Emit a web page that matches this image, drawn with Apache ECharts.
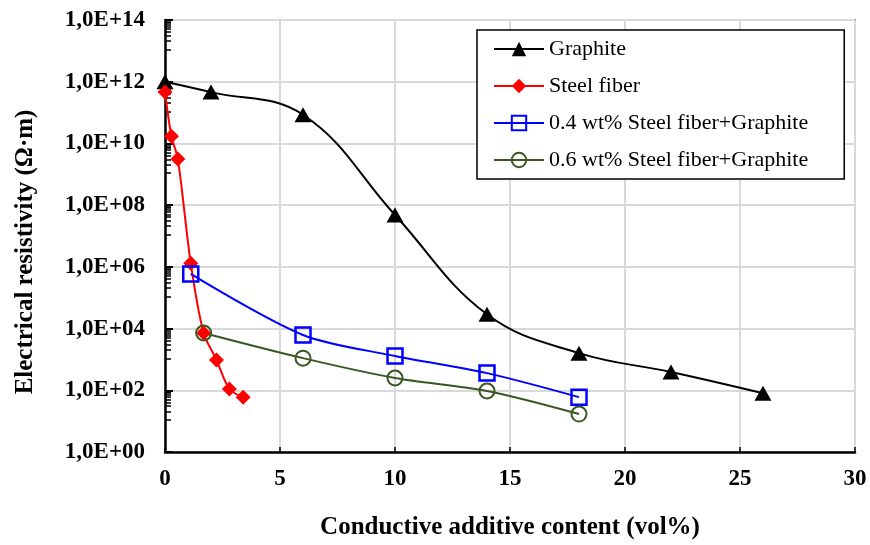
<!DOCTYPE html>
<html>
<head>
<meta charset="utf-8">
<script src="https://cdn.jsdelivr.net/npm/echarts@6/dist/echarts.min.js"></script>
<style>
    html, body {margin: 0; padding: 0; background: #fff;}
    #chart {width: 870px; height: 545px;}
</style>
</head>
<body>
<div id="chart"></div>
<script>
// values
var graphiteX = [0, 2, 6, 10, 14, 18, 22, 26];
var graphiteY = [1.0e12, 4.6e11, 8.5e10, 4.8e7, 2.9e4, 1.6e3, 3.9e2, 8.0e1];

var steelX = [0, 0.28, 0.56, 1.12, 1.68, 2.24, 2.8, 3.4];
var steelY = [4.6e11, 1.7e10, 3.1e9, 1.3e6, 7.2e3, 9.6e2, 1.1e2, 6.0e1];

var mix04X = [1.12, 6, 10, 14, 18];
var mix04Y = [5.9e5, 6.2e3, 1.3e3, 3.6e2, 6.0e1];

var mix06X = [1.68, 6, 10, 14, 18];
var mix06Y = [7.2e3, 1.1e3, 2.5e2, 9.5e1, 1.7e1];

var seriesNames = ['Graphite', 'Steel fiber', '0.4 wt% Steel fiber+Graphite', '0.6 wt% Steel fiber+Graphite'];

var font = 'Liberation Serif';

function pairs(xs, ys) {
    var out = [];
    for (var i = 0; i < xs.length; i++) {
        out.push([xs[i], ys[i]]);
    }
    return out;
}

var chart = echarts.init(document.getElementById('chart'));
var option = {
    animation: false,
    backgroundColor: '#fff',
    grid: {
        left: 165, right: 15, top: 20, bottom: 93,
        show: true, borderColor: '#000', borderWidth: 1.5
    },
    legend: {
        orient: 'vertical',
        left: 477, top: 30,
        padding: [8, 36, 8, 16],
        itemGap: 15,
        itemWidth: 50, itemHeight: 18,
        backgroundColor: '#fff',
        borderColor: '#000', borderWidth: 1.5, borderRadius: 0,
        textStyle: {fontFamily: font, fontSize: 22, color: '#000'},
        data: seriesNames
    },
    xAxis: {
        type: 'value',
        min: 0, max: 30, interval: 5,
        name: 'Conductive additive content (vol%)',
        nameLocation: 'middle',
        nameGap: 63,
        nameTextStyle: {fontFamily: font, fontSize: 25, fontWeight: 'bold', color: '#000'},
        axisLine: {lineStyle: {color: '#000', width: 2.5}},
        axisTick: {show: true, inside: true, length: 5, lineStyle: {color: '#000', width: 1.5}},
        axisLabel: {fontFamily: font, fontSize: 23, fontWeight: 'bold', color: '#000', margin: 16},
        splitLine: {show: true, lineStyle: {color: '#d9d9d9', width: 2}}
    },
    yAxis: {
        type: 'log',
        logBase: 10,
        min: 1, max: 1e14, interval: 2,
        name: 'Electrical resistivity (\u03a9\u00b7m)',
        nameLocation: 'middle',
        nameGap: 127,
        nameTextStyle: {fontFamily: font, fontSize: 25, fontWeight: 'bold', color: '#000', padding: [0, 32, 0, 0]},
        axisLine: {lineStyle: {color: '#000', width: 2.5}},
        axisTick: {show: true, inside: true, length: 8, lineStyle: {color: '#000', width: 2}},
        minorTick: {show: true, splitNumber: 10, length: 6, lineStyle: {color: '#000', width: 1.5}},
        axisLabel: {
            fontFamily: font, fontSize: 23, fontWeight: 'bold', color: '#000', margin: 20,
            formatter: function (v) {
                var e = Math.round(Math.log10(v));
                return '1,0E+' + (e < 10 ? '0' + e : e);
            }
        },
        splitLine: {show: true, lineStyle: {color: '#d9d9d9', width: 2}}
    },
    series: [
        {
            name: seriesNames[0], type: 'line', smooth: 0.4,
            data: pairs(graphiteX, graphiteY),
            symbol: 'triangle', symbolSize: [17, 15],
            itemStyle: {color: '#000'},
            lineStyle: {color: '#000', width: 2}
        },
        {
            name: seriesNames[1], type: 'line', smooth: 0.3,
            data: pairs(steelX, steelY),
            symbol: 'diamond', symbolSize: 15,
            itemStyle: {color: '#ff0000'},
            lineStyle: {color: '#ff0000', width: 2}
        },
        {
            name: seriesNames[2], type: 'line', smooth: 0.3,
            data: pairs(mix04X, mix04Y),
            symbol: 'rect', symbolSize: 15,
            itemStyle: {color: 'rgba(0,0,0,0)', borderColor: '#0000ff', borderWidth: 2.5},
            lineStyle: {color: '#0000ff', width: 2}
        },
        {
            name: seriesNames[3], type: 'line', smooth: 0.3,
            data: pairs(mix06X, mix06Y),
            symbol: 'circle', symbolSize: 15,
            itemStyle: {color: 'rgba(0,0,0,0)', borderColor: '#385723', borderWidth: 2},
            lineStyle: {color: '#385723', width: 2}
        }
    ]
};
chart.setOption(option);
</script>
</body>
</html>
